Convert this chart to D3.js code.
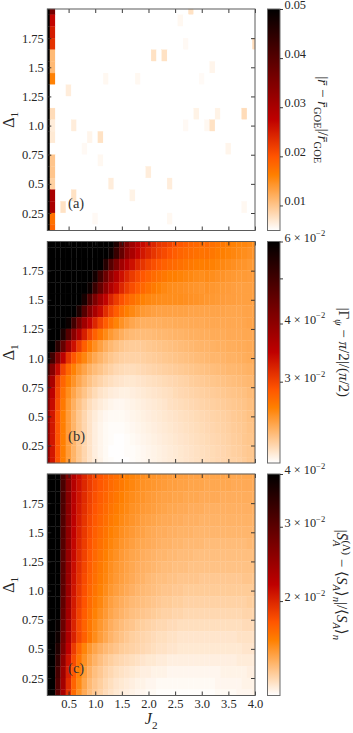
<!DOCTYPE html>
<html>
<head>
<meta charset="utf-8">
<script src="https://cdn.jsdelivr.net/npm/d3@7"></script>
<style>
  html, body { margin: 0; padding: 0; background: #fff; }
  svg { display: block; }
  svg text { font-family: "Liberation Serif", "DejaVu Serif", serif; }
</style>
</head>
<body>
<svg id="fig" width="353" height="733"></svg>
<script>
// ---- data: grids are rows from Delta1 = 2.0 (top) down to 0.1, columns J2 = 0.1 .. 4.0 ----
const j2Vals = [0.1,0.2,0.3,0.4,0.5,0.6,0.7,0.8,0.9,1.0,1.1,1.2,1.3,1.4,1.5,1.6,1.7,1.8,1.9,2.0,
                2.1,2.2,2.3,2.4,2.5,2.6,2.7,2.8,2.9,3.0,3.1,3.2,3.3,3.4,3.5,3.6,3.7,3.8,3.9,4.0];
const deltaVals = [2.0,1.9,1.8,1.7,1.6,1.5,1.4,1.3,1.2,1.1,1.0,0.9,0.8,0.7,0.6,0.5,0.4,0.3,0.2,0.1];

const xTicks = [0.5,1.0,1.5,2.0,2.5,3.0,3.5,4.0];
const xTickLabels = ['0.5','1.0','1.5','2.0','2.5','3.0','3.5','4.0'];
const yTicks = [0.25,0.5,0.75,1.0,1.25,1.5,1.75];
const yTickLabels = ['0.25','0.5','0.75','1.0','1.25','1.5','1.75'];

// (a) |r - r_GOE|/r_GOE, in units of 1e-3
const rDev = [
  [60,36,2,2,2,2,2,2,2,2, 2,2,2,2,2,2,2,2,2,2, 2,2,2,2,2,2,2,7.5,2,2, 2,2,2,2,2,2,2,2,2,2],
  [60,27,2,2,2,2,2,2,2,2, 2,2,2,2,2,2,2,2,2,2, 2,2,2,2,2,5.5,2,2,2,2, 2,2,2,2,2,2,2,2,2,2],
  [60,25,2,2,2,2,2,2,2,2, 2,2,2,2,2,2,2,2,2,2, 2,2,2,2,2,2,2,2,2,2, 2,2,2,2,2,2,2,2,2,2],
  [60,23,2,2,2,2,2,2,2,2, 2,2,2,2,2,2,2,2,2,2, 2,2,2,2,2,2,5.4,2,2,2, 2,2,2,2,2,2,2,2,2,8],
  [60,11,2,2,2,2,2,2,2,2, 2,2,2,2,2,2,2,2,2,2, 7.5,2,7.5,2,2,2,2,2,2,2, 2,2,2,2,2,2,2,2,2,2],
  [60,11,2,2,2,2,2,2,2,2, 2,2,2,2,2,2,2,2,2,2, 2,2,2,2,2,2,2,2,2,2, 2,5.8,2,2,2,2,2,2,2,2],
  [60,16,2,2,2,2,2,2,2,2, 2,5.5,2,2,2,2,2,5.5,2,2, 2,2,2,2,2,2,2,2,2,5.3, 2,2,2,2,2,2,2,2,2,2],
  [60,2,2,2,6.5,2,2,2,2,2, 2,2,2,2,2,2,2,2,2,2, 2,2,2,2,2,2,2,2,2,2, 2,2,2,2,2,2,2,2,2,2],
  [60,2,2,2,2,2,2,2,2,2, 2,2,2,2,2,2,2,2,2,2, 2,2,2,2,2,2,2,2,2,2, 2,2,2,2,2,2,2,2,2,2],
  [60,8,2,2,2,2,2,2,2,2, 2,2,2,2,2,2,2,2,2,2, 2,2,2,2,2,2,2,2,6,2, 2,2,6,2,2,2,2,8,2,2],
  [60,6.5,2,2,2,6.5,2,2,2,2, 2,2,2,2,2,2,2,2,2,2, 2,2,2,2,2,2,5.4,2,2,2, 5.5,7.5,2,2,2,2,2,2,2,2],
  [60,6.8,2,2,2,2,2,2,5.8,2, 7.5,2,2,2,2,2,2,2,2,2, 2,2,2,2,2,2,2,2,2,2, 2,2,2,2,2,2,2,2,2,2],
  [60,2,2,2,2,2,2,5.4,2,2, 2,2,2,2,2,2,2,2,2,2, 2,2,2,2,2,2,2,2,2,2, 2,2,2,2,5.8,2,2,2,2,2],
  [60,10,2,2,2,2,2,2,2,2, 5.5,2,2,2,2,2,2,2,2,2, 2,2,2,2,2,2,2,2,2,2, 2,2,2,2,2,2,2,2,2,2],
  [60,10,2,2,2,2,2,2,2,2, 2,2,2,2,2,2,2,2,2,6.5, 2,2,2,2,2,2,2,2,2,2, 2,2,2,2,2,2,2,2,2,2],
  [60,9,2,2,2,2,2,2,2,2, 2,2,6.5,2,2,2,2,2,2,2, 2,2,2,6.5,2,2,2,2,2,2, 2,2,2,2,2,2,2,2,2,2],
  [60,30,2,2,2,7.5,2,2,2,2, 2,2,2,2,2,2,6,2,2,2, 2,2,2,2,2,2,2,2,2,2, 2,2,2,2,2,2,2,2,2,2],
  [60,30,2,7.5,2,2,2,2,2,2, 2,2,2,2,2,2,2,2,2,2, 2,2,2,2,2,2,2,2,2,2, 2,2,2,2,2,2,2,5.5,2,2],
  [60,17.5,2,2,2,2,2,2,2,5.4, 2,2,2,2,2,2,2,2,2,2, 2,2,2,5.5,2,2,2,2,2,2, 2,2,2,2,2,2,2,2,2,2],
  [60,18.5,2,2,2,2,2,2,2,2, 2,2,2,2,2,2,2,2,2,2, 2,2,2,2,2,2,2,2,2,2, 2,2,2,2,2,2,2,2,2,2]
];

// (b) |Gamma_psi - pi/2|/(pi/2), in units of 1e-3
const gammaDev = [
  [95,92,90,88,86,84,82,79,76,72, 68,64,61,55,47,42,38,35.5,34,33, 32,31,30.5,30,29.3,28.8,28.4,28,27.8,27.5, 27.8,27.3,27,26.8,26.6,26.3,26.1,26,25.8,25.5],
  [93,90,88,86,84,82,80,77,74,70, 66,62,58,51,45,40,37,34.5,33,32, 31,30.2,29.6,29,28.4,28,27.7,27.5,27.3,27.1, 27.2,26.9,26.6,26.4,26.2,26,25.8,25.6,25.4,25.2],
  [90,88,86,84,82,79,76,72,68,64, 60,54,47,42,38,35.5,33.5,32,31,30, 29.3,28.7,28.2,27.8,27.6,27.3,27,26.8,26.6,26.5, 26.6,26.3,26.1,25.9,25.7,25.5,25.3,25.2,25,24.9],
  [88,86,84,82,79,76,72,68,63,57, 50,44,39.5,36,33.5,32,30.6,29.6,28.8,28.2, 27.6,27.2,26.8,26.5,26.4,26.2,26,25.9,25.7,25.6, 25.8,25.6,25.4,25.3,25.1,25,24.9,24.9,24.8,24.9],
  [86,84,82,79,76,72,68,63,58,51, 45,40,36.5,34,32,30.5,29.4,28.5,27.8,27.2, 26.7,26.3,25.9,25.7,25.6,25.5,25.4,25.3,25.2,25.1, 25.3,25.1,25,24.9,24.8,24.7,24.6,24.6,24.6,24.7],
  [84,82,79,76,72,67,62,56,48,42, 37.5,34.5,32.2,30.5,29.2,28.2,27.4,26.8,26.3,26, 25.8,25.7,25.6,25.6,25.6,25.6,25.5,25.4,25.3,25.2, 25.1,25,24.9,24.8,24.7,24.7,24.6,24.6,24.6,24.6],
  [82,79,76,72,67,62,55,47,41,37, 34,31.5,29.8,28.4,27.3,26.5,25.9,25.4,25,24.8, 24.6,24.5,24.5,24.5,24.5,24.5,24.5,24.4,24.4,24.4, 24.4,24.4,24.4,24.4,24.3,24.3,24.3,24.4,24.4,24.5],
  [78,74,70,64,58,50,43,38,34.5,32, 30,28.4,27.2,26.2,25.4,24.8,24.3,24,23.8,23.8, 23.8,23.8,23.9,23.9,24,24,24,24.1,24.1,24.1, 24.2,24.2,24.2,24.2,24.2,24.2,24.2,24.3,24.4,24.5],
  [72,68,61,55,47,40.5,36,32.5,30,28.2, 26.9,25.8,25,24.4,23.9,23.5,23.3,23.2,23.2,23.2, 23.3,23.4,23.4,23.5,23.6,23.6,23.7,23.8,23.8,23.9, 23.9,24,24,24,24.1,24.1,24.1,24.2,24.2,24.3],
  [68,62,53,45,38,33.5,30.5,28.3,26.7,25.5, 24.6,23.9,23.4,23,22.7,22.5,22.4,22.4,22.5,22.6, 22.7,22.8,22.9,23,23.1,23.2,23.3,23.4,23.5,23.6, 23.6,23.7,23.8,23.8,23.9,23.9,24,24,24.1,24.2],
  [62,50,41,35,31,28.8,27.2,26,25,24.2, 23.6,23.1,22.7,22.4,22.2,22.1,22.1,22.1,22.2,22.3, 22.4,22.5,22.6,22.7,22.8,22.9,23,23.1,23.2,23.3, 23.4,23.5,23.5,23.6,23.7,23.7,23.8,23.9,24,24.1],
  [50,41,34,30,27.8,26.3,25.2,24.4,23.7,23.2, 22.8,22.4,22.1,21.8,21.7,21.6,21.6,21.7,21.8,21.9, 22,22.1,22.2,22.3,22.4,22.5,22.6,22.7,22.8,22.9, 23,23.1,23.2,23.3,23.4,23.4,23.5,23.6,23.7,23.9],
  [44,37,30.5,28,26.5,25.3,24.3,23.5,22.9,22.4, 22,21.7,21.5,21.3,21.2,21.1,21.1,21.2,21.3,21.4, 21.5,21.6,21.7,21.8,21.9,22,22.1,22.3,22.4,22.5, 22.6,22.7,22.8,22.9,23,23.1,23.2,23.3,23.4,23.6],
  [42,35,30,27.3,25.6,24.4,23.5,22.8,22.2,21.7, 21.3,21.1,20.9,20.8,20.7,20.7,20.8,20.9,21,21.1, 21.2,21.3,21.4,21.5,21.7,21.8,21.9,22,22.1,22.2, 22.3,22.4,22.5,22.6,22.7,22.8,22.9,23,23.2,23.4],
  [41,34,29.5,26.8,25,23.8,22.9,22.2,21.6,21.2, 20.9,20.7,20.5,20.4,20.4,20.5,20.6,20.7,20.8,20.9, 21,21.1,21.2,21.4,21.5,21.6,21.7,21.8,21.9,22, 22.1,22.2,22.3,22.4,22.5,22.6,22.7,22.8,23,23.2],
  [40,33,29,26.5,24.8,23.6,22.6,21.9,21.3,20.9, 20.6,20.4,20.3,20.3,20.3,20.4,20.5,20.6,20.7,20.8, 20.9,21,21.1,21.2,21.3,21.4,21.5,21.6,21.7,21.8, 21.9,22,22.1,22.2,22.3,22.5,22.6,22.7,22.9,23.1],
  [40,33,29,26.5,24.8,23.6,22.6,21.9,21.3,20.8, 20.5,20.3,20.2,20.2,20.2,20.3,20.4,20.5,20.6,20.7, 20.8,20.9,21,21.1,21.2,21.3,21.4,21.5,21.6,21.7, 21.8,21.9,22,22.1,22.2,22.4,22.5,22.6,22.8,23],
  [40,33,29,26.5,24.8,23.6,22.6,21.9,21.3,20.8, 20.5,20.3,20.2,20.1,20.1,20.2,20.3,20.4,20.5,20.6, 20.7,20.8,20.9,21,21.1,21.2,21.3,21.4,21.5,21.6, 21.7,21.8,21.9,22,22.1,22.3,22.4,22.6,22.7,22.9],
  [40,33,29,26.5,24.8,23.6,22.6,21.9,21.3,20.8, 20.5,20.3,20.1,20.1,20.1,20.2,20.2,20.3,20.4,20.5, 20.6,20.7,20.8,20.9,21,21.1,21.2,21.3,21.4,21.5, 21.6,21.7,21.8,21.9,22,22.2,22.3,22.5,22.6,22.8],
  [40,33,29,26.5,24.8,23.6,22.6,21.9,21.3,20.9, 20.6,20.3,20.2,20.1,20.1,20.1,20.2,20.3,20.4,20.5, 20.6,20.7,20.8,20.9,21,21.1,21.2,21.3,21.4,21.5, 21.6,21.7,21.8,21.9,22,22.1,22.2,22.4,22.6,22.7]
];

// (c) |S_A - <S_A>_n|/<S_A>_n, in units of 1e-3
const entDev = [
  [90,78,50,32,26.5,22.8,21.2,20,19.1,18.4, 17.9,17.5,17.1,16.8,16.5,16.2,16,15.8,15.6,15.5, 15.4,15.3,15.2,15.1,15.1,15,15,14.9,14.9,14.9, 14.8,14.8,14.8,14.8,14.8,14.7,14.7,14.7,14.7,14.7],
  [90,77,49,31.8,26.3,22.6,21,19.9,19,18.3, 17.8,17.4,17,16.7,16.4,16.1,15.9,15.7,15.5,15.4, 15.3,15.2,15.1,15,15,14.9,14.9,14.8,14.8,14.8, 14.7,14.7,14.7,14.7,14.7,14.6,14.6,14.6,14.6,14.6],
  [89,76,48,31.5,26,22.4,20.8,19.7,18.8,18.1, 17.6,17.2,16.8,16.5,16.2,15.9,15.7,15.5,15.4,15.2, 15.1,15,14.9,14.9,14.8,14.8,14.7,14.7,14.7,14.6, 14.6,14.6,14.6,14.5,14.5,14.5,14.5,14.5,14.5,14.5],
  [88,75,47,31.2,25.8,22.2,20.6,19.5,18.6,17.9, 17.4,17,16.6,16.3,16,15.8,15.5,15.4,15.2,15.1, 15,14.9,14.8,14.7,14.7,14.6,14.6,14.5,14.5,14.5, 14.4,14.4,14.4,14.4,14.4,14.4,14.4,14.4,14.4,14.4],
  [87,74,46,31,25.6,22,20.4,19.3,18.4,17.7, 17.2,16.8,16.4,16.1,15.8,15.6,15.4,15.2,15,14.9, 14.8,14.7,14.6,14.6,14.5,14.5,14.4,14.4,14.4,14.3, 14.3,14.3,14.3,14.3,14.3,14.3,14.3,14.3,14.3,14.3],
  [86,73,45,30.8,25.4,21.8,20.2,19.1,18.2,17.5, 17,16.6,16.2,15.9,15.6,15.4,15.2,15,14.9,14.7, 14.6,14.5,14.5,14.4,14.4,14.3,14.3,14.3,14.2,14.2, 14.2,14.2,14.2,14.2,14.2,14.2,14.2,14.2,14.2,14.2],
  [85,72,44,30.6,25.2,21.6,20,18.9,18,17.3, 16.8,16.4,16,15.7,15.4,15.2,15,14.8,14.7,14.6, 14.5,14.4,14.3,14.3,14.2,14.2,14.1,14.1,14.1,14.1, 14,14,14,14,14,14,14,14,14.1,14.1],
  [85,71,44,30.4,25,21.4,19.8,18.7,17.8,17.1, 16.6,16.2,15.8,15.5,15.2,15,14.8,14.7,14.5,14.4, 14.3,14.2,14.2,14.1,14.1,14,14,14,13.9,13.9, 13.9,13.9,13.9,13.9,13.9,13.9,13.9,13.9,13.9,14],
  [84,70,43,30.2,24.8,21.2,19.6,18.5,17.6,16.9, 16.4,16,15.6,15.3,15.1,14.9,14.7,14.5,14.4,14.3, 14.2,14.1,14,14,13.9,13.9,13.9,13.8,13.8,13.8, 13.8,13.8,13.8,13.8,13.8,13.8,13.8,13.8,13.8,13.9],
  [84,70,43,30,24.6,21,19.4,18.3,17.4,16.8, 16.3,15.9,15.5,15.2,15,14.8,14.6,14.4,14.3,14.1, 14,13.9,13.9,13.8,13.8,13.7,13.7,13.7,13.7,13.6, 13.6,13.6,13.6,13.6,13.6,13.6,13.6,13.7,13.7,13.7],
  [83,69,42,29.8,24.4,20.8,19.2,18.1,17.2,16.6, 16.1,15.7,15.3,15,14.8,14.6,14.4,14.2,14.1,14, 13.9,13.8,13.7,13.7,13.6,13.6,13.5,13.5,13.5,13.5, 13.5,13.5,13.5,13.5,13.5,13.5,13.5,13.5,13.5,13.6],
  [82,68,41,29.5,24.1,20.6,19,17.9,17,16.4, 15.9,15.4,15,14.7,14.5,14.3,14.1,14,13.9,13.8, 13.7,13.6,13.5,13.5,13.4,13.4,13.3,13.3,13.3,13.3, 13.3,13.3,13.3,13.3,13.3,13.3,13.3,13.3,13.4,13.4],
  [81,66,40,29,23.8,20.4,18.7,17.6,16.8,16.1, 15.6,15.2,14.8,14.5,14.3,14.1,13.9,13.8,13.7,13.6, 13.5,13.4,13.3,13.3,13.2,13.2,13.1,13.1,13.1,13.1, 13.1,13.1,13.1,13.1,13.1,13.1,13.1,13.2,13.2,13.2],
  [80,64,39,28.5,23.3,20.1,18.4,17.3,16.5,15.8, 15.3,14.9,14.5,14.2,14,13.8,13.7,13.5,13.4,13.3, 13.2,13.1,13.1,13,13,12.9,12.9,12.9,12.9,12.9, 12.9,12.9,12.9,12.9,12.9,12.9,12.9,13,13,13],
  [78,62,38,28,23,20.2,18.5,17.4,16.5,15.7, 15.1,14.7,14.3,14,13.8,13.6,13.4,13.3,13.2,13.1, 13,12.9,12.9,12.8,12.8,12.7,12.7,12.7,12.7,12.7, 12.7,12.7,12.7,12.7,12.7,12.7,12.8,12.8,12.8,12.8],
  [75,58,36,27,22,19,17.2,16,15.3,14.8, 14.4,14.1,13.9,13.7,13.5,13.4,13.3,13.2,13.1,13, 12.9,12.8,12.8,12.7,12.7,12.6,12.6,12.6,12.6,12.6, 12.6,12.6,12.6,12.6,12.6,12.6,12.6,12.7,12.7,12.7],
  [73,55,34,25.5,21,18.3,16.6,15.5,14.8,14.3, 13.9,13.6,13.4,13.2,13.1,13,12.9,12.8,12.7,12.6, 12.6,12.5,12.5,12.4,12.4,12.4,12.4,12.4,12.4,12.4, 12.4,12.4,12.4,12.4,12.4,12.4,12.5,12.5,12.5,12.5],
  [72,52,32,24.5,20.3,17.7,16.1,15.1,14.4,13.9, 13.6,13.3,13.1,12.9,12.8,12.7,12.6,12.5,12.4,12.4, 12.3,12.3,12.3,12.2,12.2,12.2,12.2,12.2,12.2,12.2, 12.2,12.2,12.2,12.3,12.3,12.3,12.3,12.3,12.4,12.4],
  [71,51,31,24,19.8,17.3,15.8,14.8,14.1,13.7, 13.4,13.1,12.9,12.7,12.6,12.5,12.4,12.3,12.3,12.2, 12.2,12.1,12.1,12.1,12.1,12.1,12.1,12.1,12.1,12.1, 12.1,12.1,12.2,12.2,12.2,12.2,12.2,12.3,12.3,12.3],
  [70,50,30,23.5,19.5,17,15.5,14.6,14,13.6, 13.3,13,12.8,12.6,12.5,12.4,12.3,12.2,12.2,12.1, 12.1,12,12,12,12,12,12,12,12,12, 12,12,12.1,12.1,12.1,12.1,12.2,12.2,12.2,12.3]
];

// colour bar ranges (same 1e-3 units) and ticks
const cbDomainA = [4.9, 50];
const cbTicksA = [10, 20, 30, 40, 50];
const cbDomainB = [20.07, 60];
const cbTicksB = [30, 40, 50, 60];
const cbLabeledB = [30, 40, 60];
const cbDomainC = [11.95, 40];
const cbTicksC = [20, 30, 40];

// ---- helpers ----
const SERIF = '"Liberation Serif", "DejaVu Serif", serif';
const INK = '#262626';

// gist_heat reversed: t=0 white, t=1 black
function gistHeatR(t) {
  const x = 1 - Math.max(0, Math.min(1, t));
  const c = v => Math.round(255 * Math.max(0, Math.min(1, v)));
  return `rgb(${c(1.5 * x)},${c(2 * x - 1)},${c(4 * x - 3)})`;
}

// segments: {t, it, sub, sup, dx}
function rich(sel, segs, size) {
  let shift = 0;
  segs.forEach(s => {
    const target = s.sub ? 0.3 * size : s.sup ? -0.42 * size : 0;
    sel.append('tspan')
      .attr('dy', target - shift)
      .attr('dx', s.dx || 0)
      .style('font-size', ((s.sub || s.sup) ? size * 0.7 : size) + 'px')
      .style('font-style', s.it ? 'italic' : 'normal')
      .text(s.t);
    shift = target;
  });
}

// ---- layout ----
const svg = d3.select('#fig');
const L = 47.3, R = 255, PH = 221.5;
const tops = [9, 241.5, 474];
const cbX = 267.5, cbW = 12.5;

const defs = svg.append('defs');
const grad = defs.append('linearGradient').attr('id', 'cmap')
  .attr('x1', 0).attr('y1', 1).attr('x2', 0).attr('y2', 0);
grad.selectAll('stop').data(d3.range(0, 1.0001, 1 / 48)).join('stop')
  .attr('offset', d => d).attr('stop-color', d => gistHeatR(d));

const panels = [
  { grid: rDev, tag: '(a)',
    color: d3.scaleSequential(gistHeatR).domain(cbDomainA).clamp(true),
    cb: d3.scaleLinear().domain(cbDomainA), ticks: cbTicksA,
    tickLab: d => [{ t: (d / 1000).toFixed(2) }],
    labelX: 318,
    label: [{ t: '|' }, { t: 'r\u0304', it: true }, { t: ' \u2212 ' }, { t: 'r\u0304', it: true }, { t: 'GOE', sub: true },
            { t: '|/' }, { t: 'r\u0304', it: true }, { t: 'GOE', sub: true }] },
  { grid: gammaDev, tag: '(b)',
    color: d3.scaleSequentialLog(gistHeatR).domain(cbDomainB).clamp(true),
    cb: d3.scaleLog().domain(cbDomainB), ticks: cbTicksB,
    tickLab: d => cbLabeledB.includes(d) ? [{ t: `${d / 10} \u00d7 10` }, { t: '\u22122', sup: true }] : null,
    labelX: 339,
    label: [{ t: '|\u0393' }, { t: '\u03c8', it: true, sub: true }, { t: ' \u2212 ' }, { t: '\u03c0', it: true },
            { t: '/2|/(' }, { t: '\u03c0', it: true }, { t: '/2)' }] },
  { grid: entDev, tag: '(c)',
    color: d3.scaleSequentialLog(gistHeatR).domain(cbDomainC).clamp(true),
    cb: d3.scaleLog().domain(cbDomainC), ticks: cbTicksC,
    tickLab: d => [{ t: `${d / 10} \u00d7 10` }, { t: '\u22122', sup: true }],
    labelX: 337,
    label: [{ t: '|' }, { t: 'S\u0304', it: true }, { t: 'A', it: true, sub: true }, { t: '(\u039b)', sup: true, dx: -6 },
            { t: ' \u2212 \u27e8' }, { t: 'S', it: true }, { t: 'A', it: true, sub: true }, { t: '\u27e9' }, { t: 'n', it: true, sub: true },
            { t: '|/\u27e8' }, { t: 'S', it: true }, { t: 'A', it: true, sub: true }, { t: '\u27e9' }, { t: 'n', it: true, sub: true }] }
];

const x = d3.scaleLinear().domain([0.1, 4.0]).range([L, R]);

panels.forEach((p, k) => {
  const top = tops[k], bot = top + PH;
  const y = d3.scaleLinear().domain([0.1, 2.0]).range([bot, top]);
  const g = svg.append('g');

  // heat map cells, centred on the grid points and clipped to the axes range
  const cells = p.grid.flatMap((row, r) => row.map((v, c) => ({ d: deltaVals[r], j: j2Vals[c], v })));
  const x0 = d => x(Math.max(0.1, d.j - 0.05)), x1 = d => x(Math.min(4.0, d.j + 0.05));
  const y0 = d => y(Math.min(2.0, d.d + 0.05)), y1 = d => y(Math.max(0.1, d.d - 0.05));
  g.selectAll('rect.cell').data(cells).join('rect')
    .attr('class', 'cell')
    .attr('x', x0).attr('width', d => x1(d) - x0(d))
    .attr('y', y0).attr('height', d => y1(d) - y0(d))
    .attr('fill', d => p.color(d.v))
    .attr('stroke', d => p.color(d.v)).attr('stroke-width', 0.3);

  // axes (ticks point inward on all four sides)
  const styleAxis = s => {
    s.attr('font-family', null).attr('font-size', null);
    s.select('.domain').remove();
    s.selectAll('line').attr('stroke', INK).attr('stroke-width', 0.9);
    s.selectAll('text').style('font-family', SERIF).style('font-size', '12.5px').attr('fill', INK);
  };
  g.append('g').attr('transform', `translate(${L},0)`)
    .call(d3.axisLeft(y).tickValues(yTicks).tickSize(-4).tickPadding(3.5).tickFormat((d, i) => yTickLabels[i]))
    .call(styleAxis);
  g.append('g').attr('transform', `translate(${R},0)`)
    .call(d3.axisRight(y).tickValues(yTicks).tickSize(-4).tickFormat('')).call(styleAxis);
  g.append('g').attr('transform', `translate(0,${top})`)
    .call(d3.axisTop(x).tickValues(xTicks).tickSize(-4).tickFormat('')).call(styleAxis);
  g.append('g').attr('transform', `translate(0,${bot})`)
    .call(d3.axisBottom(x).tickValues(xTicks).tickSize(-4).tickPadding(4)
      .tickFormat((d, i) => k === 2 ? xTickLabels[i] : ''))
    .call(styleAxis);

  g.append('rect').attr('x', L).attr('y', top).attr('width', R - L).attr('height', PH)
    .attr('fill', 'none').attr('stroke', '#5a5a5a').attr('stroke-width', 1);

  // panel tag at axes fraction (0.1, 0.1)
  g.append('text').attr('x', L + 0.1 * (R - L)).attr('y', bot - 0.1 * PH)
    .style('font-family', SERIF).style('font-size', '14.5px').attr('fill', '#333').text(p.tag);

  // y label
  const yl = g.append('text')
    .attr('transform', `translate(13.5,${(top + bot) / 2}) rotate(-90)`)
    .attr('text-anchor', 'middle').attr('dy', '0.33em')
    .style('font-family', SERIF).attr('fill', INK);
  rich(yl, [{ t: '\u0394' }, { t: '1', sub: true }], 16);

  // colour bar
  const cy = p.cb.range([bot, top]);
  const cg = svg.append('g');
  cg.append('rect').attr('x', cbX).attr('y', top).attr('width', cbW).attr('height', PH)
    .attr('fill', 'url(#cmap)').attr('stroke', '#6a6a6a').attr('stroke-width', 1);
  cg.append('g').attr('transform', `translate(${cbX + cbW},0)`)
    .call(d3.axisRight(cy).tickValues(p.ticks).tickSize(3).tickFormat(''))
    .call(styleAxis);
  p.ticks.forEach(d => {
    const segs = p.tickLab(d);
    if (!segs) return;
    const t = cg.append('text').attr('x', cbX + cbW + 4.5).attr('y', cy(d)).attr('dy', '0.35em')
      .style('font-family', SERIF).attr('fill', INK);
    rich(t, segs, 12.3);
  });
  const cl = cg.append('text')
    .attr('transform', `translate(${p.labelX},${(top + bot) / 2}) rotate(90)`)
    .attr('text-anchor', 'middle').attr('dy', '0.35em')
    .style('font-family', SERIF).attr('fill', INK);
  rich(cl, p.label, 15);
});

// x label
const xl = svg.append('text').attr('x', (L + R) / 2).attr('y', 724)
  .attr('text-anchor', 'middle').style('font-family', SERIF).attr('fill', INK);
rich(xl, [{ t: 'J', it: true }, { t: '2', sub: true }], 16);
</script>
</body>
</html>
